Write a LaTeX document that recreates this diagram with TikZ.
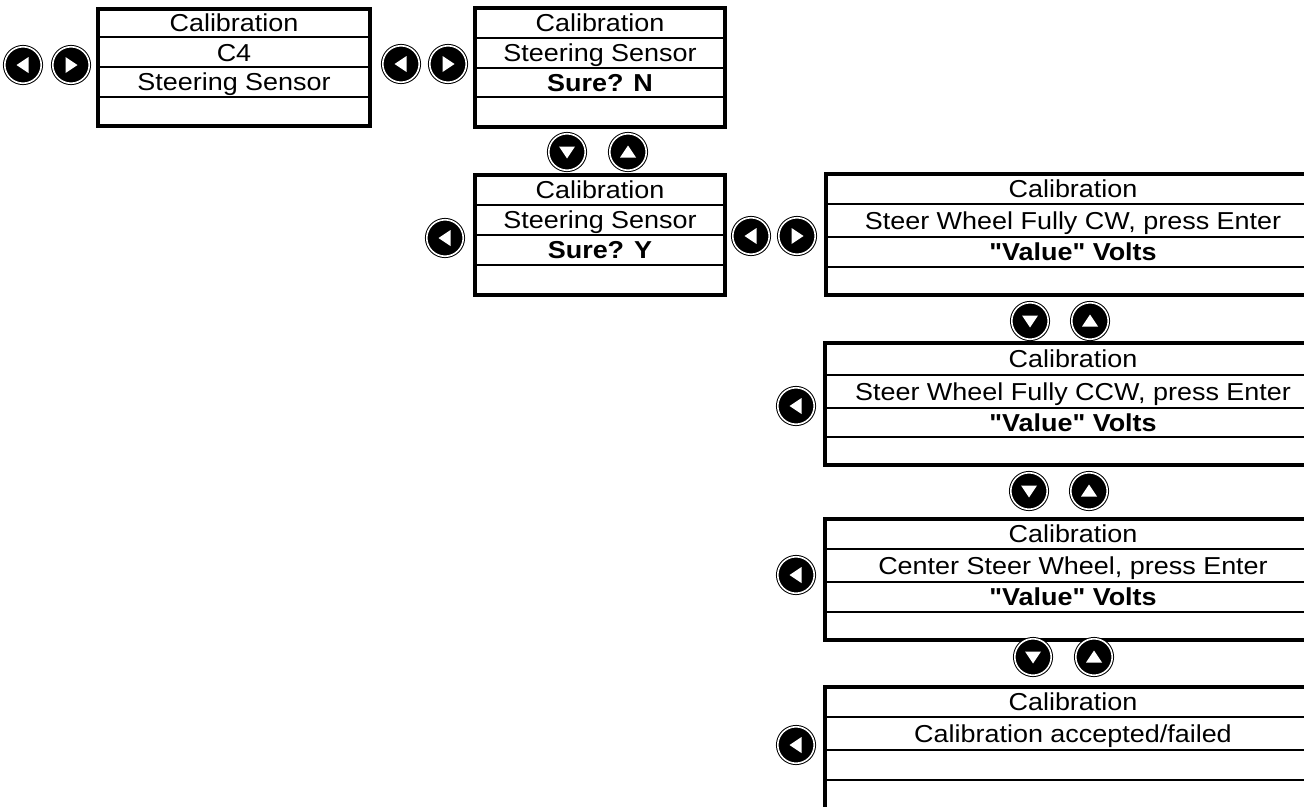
\documentclass[tikz,border=0pt]{standalone}
\usepackage{fontspec}
\setmainfont{Liberation Sans}[FakeStretch=1.1, Ligatures=TeXOff]
\tikzset{
  btnsty/.style={circle, fill=black, draw=black, line width=1pt, double=white,
    double distance=1.6pt, minimum size=36.5pt, inner sep=0pt, outer sep=0pt},
  scr/.style={draw=black, line width=3.8pt, inner sep=0pt},
  rowline/.style={draw=black, line width=2.2pt},
  txt/.style={anchor=base, inner sep=0pt, font=\fontsize{24.5pt}{27pt}\selectfont},
  btxt/.style={txt, font=\fontsize{24.5pt}{27pt}\selectfont\bfseries}
}
% button: name, x, y, rotation (0 = left, 180 = right, 90 = down, 270 = up)
\newcommand\navbtn[4]{%
  \node[btnsty] (#1) at (#2,#3) {};
  \fill[white, shift={(#1.center)}, rotate=#4] (-6.5pt,0pt) -- (5.5pt,-8pt) -- (5.5pt,8pt) -- cycle;}
% screen: name, x1, y1, x2, y2
\newcommand\screenbox[5]{%
  \node[scr, minimum width={#4pt-#2pt}, minimum height={#5pt-#3pt}] (#1) at ({(#2+#4)/2},{(#3+#5)/2}) {};}
\newcommand\rows[4]{% name, y, y, y
  \draw[rowline] (#1.west |- 0,#2) -- (#1.east |- 0,#2);
  \draw[rowline] (#1.west |- 0,#3) -- (#1.east |- 0,#3);
  \draw[rowline] (#1.west |- 0,#4) -- (#1.east |- 0,#4);}
\begin{document}
\begin{tikzpicture}[x=1pt,y=-1pt]
\fill[white] (0,0) rectangle (1304,806);
\clip (0,0) rectangle (1304,806);

% Screen A
\screenbox{A}{98}{9}{370}{126}
\rows{A}{37}{67}{97}
\node[txt] (A1) at (234,31.5) {Calibration};
\node[txt] (A2) at (234,61) {C4};
\node[txt] (A3) at (234,90.5) {Steering Sensor};
\navbtn{AL}{23}{65}{0}
\navbtn{AR}{71}{65}{180}

% Screen B
\screenbox{B}{475}{8}{725}{127}
\rows{B}{38}{68}{97}
\node[txt] (B1) at (600,31.5) {Calibration};
\node[txt] (B2) at (600,61.5) {Steering Sensor};
\node[btxt] (B3) at (600,91) {Sure? N};
\navbtn{BL}{401}{64}{0}
\navbtn{BR}{448}{64}{180}
\navbtn{BCd}{567}{152}{90}
\navbtn{BCu}{628}{152}{270}

% Screen C
\screenbox{C}{475}{175}{725}{295}
\rows{C}{205}{235}{265}
\node[txt] (C1) at (600,198.5) {Calibration};
\node[txt] (C2) at (600,228.5) {Steering Sensor};
\node[btxt] (C3) at (600,258.5) {Sure? Y};
\navbtn{CL}{445}{238}{0}

% Screen D
\screenbox{D}{826}{174}{1320}{295}
\rows{D}{204}{237}{267}
\node[txt] (D1) at (1073,197.5) {Calibration};
\node[txt] (D2) at (1073,229) {Steer Wheel Fully CW, press Enter};
\node[btxt] (D3) at (1073,260.5) {"Value" Volts};
\navbtn{DL}{751}{236}{0}
\navbtn{DR}{797}{236}{180}
\navbtn{DEd}{1030}{321}{90}
\navbtn{DEu}{1090}{321}{270}

% Screen E
\screenbox{E}{825}{343}{1320}{465}
\rows{E}{375}{408}{437}
\node[txt] (E1) at (1073,367.5) {Calibration};
\node[txt] (E2) at (1073,400) {Steer Wheel Fully CCW, press Enter};
\node[btxt] (E3) at (1073,431) {"Value" Volts};
\navbtn{EL}{796}{406}{0}
\navbtn{EFd}{1029}{491}{90}
\navbtn{EFu}{1089}{491}{270}

% Screen F
\screenbox{F}{825}{519}{1320}{640}
\rows{F}{549}{582}{612}
\node[txt] (F1) at (1073,542.5) {Calibration};
\node[txt] (F2) at (1073,574) {Center Steer Wheel, press Enter};
\node[btxt] (F3) at (1073,605.5) {"Value" Volts};
\navbtn{FL}{796}{575}{0}
\navbtn{FGd}{1033}{657}{90}
\navbtn{FGu}{1094}{657}{270}

% Screen G
\screenbox{G}{825}{687}{1320}{830}
\rows{G}{717}{750}{780}
\node[txt] (G1) at (1073,710.5) {Calibration};
\node[txt] (G2) at (1073,742) {Calibration accepted/failed};
\navbtn{GL}{796}{745}{0}
\end{tikzpicture}
\end{document}
